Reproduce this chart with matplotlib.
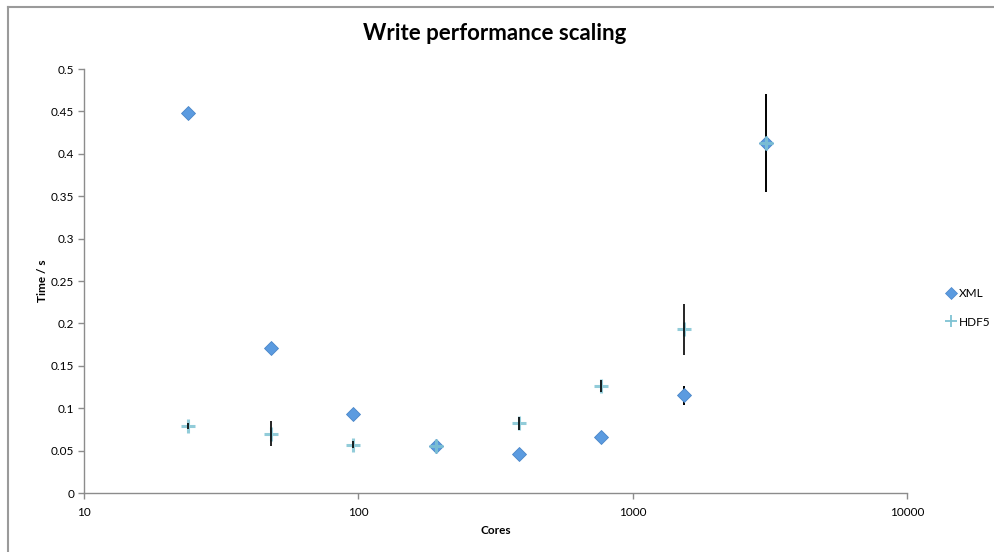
import matplotlib
matplotlib.use("Agg")
import matplotlib.pyplot as plt
from matplotlib.lines import Line2D
from matplotlib.ticker import FixedLocator, NullLocator, FixedFormatter

plt.rcParams['font.family'] = ['Liberation Sans Narrow', 'Lato', 'DejaVu Sans']

cores = [24, 48, 96, 192, 384, 768, 1536, 3072]
xml_time = [0.448, 0.171, 0.093, 0.056, 0.046, 0.066, 0.115, 0.413]
xml_err = [0.0, 0.0, 0.0, 0.0, 0.0, 0.0, 0.011, 0.058]
hdf5_time = [0.079, 0.070, 0.057, 0.055, 0.082, 0.126, 0.193, 0.413]
hdf5_err = [0.004, 0.0145, 0.004, 0.0, 0.008, 0.007, 0.030, 0.0]

x_ticks = [10, 100, 1000, 10000]
x_tick_labels = ['10', '100', '1000', '10000']
y_ticks = [0, 0.05, 0.1, 0.15, 0.2, 0.25, 0.3, 0.35, 0.4, 0.45, 0.5]
y_tick_labels = ['0', '0.05', '0.1', '0.15', '0.2', '0.25', '0.3', '0.35', '0.4', '0.45', '0.5']

W, H = 994, 552
fig = plt.figure(figsize=(W / 100, H / 100), dpi=100)

# chart frame (top and left edges visible)
fig.add_artist(Line2D([8 / W, 8 / W], [0, 1 - 7 / H], transform=fig.transFigure,
                      color='#9a9a9a', lw=1.5))
fig.add_artist(Line2D([8 / W, 1], [1 - 7 / H, 1 - 7 / H], transform=fig.transFigure,
                      color='#9a9a9a', lw=1.5))

ax = fig.add_axes([84 / W, (H - 493) / H, (907 - 84) / W, (493 - 69) / H])
ax.set_xscale('log')
ax.set_xlim(10, 10000)
ax.set_ylim(0, 0.5)

xml_color = '#5b9be0'
xml_edge = '#4a86c8'
hdf_color = '#7fc3d3'

# XML series
ax.errorbar(cores, xml_time, yerr=xml_err, fmt='none', ecolor='black',
            elinewidth=1.4, capsize=0, zorder=2)
ax.plot(cores, xml_time, linestyle='none', marker='D', markersize=7.5,
        markerfacecolor=xml_color, markeredgecolor=xml_edge, markeredgewidth=0.6,
        zorder=3)
# HDF5 series
ax.plot(cores, hdf5_time, linestyle='none', marker='+', markersize=10,
        markeredgewidth=2.2, color=hdf_color, alpha=0.85, zorder=5)
ax.errorbar(cores, hdf5_time, yerr=hdf5_err, fmt='none', ecolor='black',
            elinewidth=1.2, capsize=0, zorder=6)

ax.xaxis.set_major_locator(FixedLocator(x_ticks))
ax.xaxis.set_major_formatter(FixedFormatter(x_tick_labels))
ax.xaxis.set_minor_locator(NullLocator())
ax.set_yticks(y_ticks)
ax.set_yticklabels(y_tick_labels)

for s in ['top', 'right']:
    ax.spines[s].set_visible(False)
for s in ['left', 'bottom']:
    ax.spines[s].set_color('#8c8c8c')
    ax.spines[s].set_linewidth(1.0)
ax.tick_params(axis='both', direction='out', length=4, width=1.0, color='#8c8c8c',
               labelsize=8.5, labelcolor='black')
ax.tick_params(axis='x', pad=6)
ax.tick_params(axis='y', pad=3)

ax.set_xlabel('Cores', fontsize=8.5, fontweight='bold', labelpad=5)
ax.set_ylabel('Time / s', fontsize=8.5, fontweight='bold', labelpad=2)

fig.text(0.498, 1 - 33 / H, 'Write performance scaling', ha='center', va='center',
         fontsize=16, fontweight='bold')

handles = [
    Line2D([], [], linestyle='none', marker='D', markersize=6,
           markerfacecolor=xml_color, markeredgecolor=xml_edge, markeredgewidth=0.5),
    Line2D([], [], linestyle='none', marker='+', markersize=8,
           markeredgewidth=1.3, color=hdf_color),
]
fig.legend(handles, ['XML', 'HDF5'], loc='upper left',
           bbox_to_anchor=(940 / W, 1 - 282 / H), frameon=False,
           fontsize=8.5, handlelength=0.8, handletextpad=0.3, labelspacing=1.5,
           borderpad=0)

fig.savefig('out.png', dpi=100)
